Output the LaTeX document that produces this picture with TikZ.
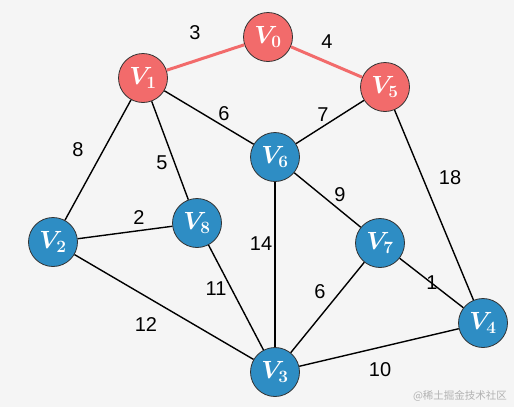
\documentclass[tikz,border=0pt]{standalone}
\usepackage{amsmath, amssymb}
\usepackage{fontspec}
\setsansfont{Liberation Sans}
\newfontfamily\cjk{Noto Sans CJK SC}
\usepackage{xcolor}
\usepackage{tikz}
\usetikzlibrary{calc, positioning}

\definecolor{bgray}{HTML}{F5F5F5}
\definecolor{vred}{HTML}{F26B6B}
\definecolor{vblue}{HTML}{2E8DC4}

\begin{document}
\begin{tikzpicture}[x=1pt, y=-1pt,
    vtx/.style={circle, draw=black!80, line width=0.8pt, minimum size=49pt, inner sep=0pt,
        text=white, font=\fontsize{25}{25}\selectfont\boldmath},
    redv/.style={vtx, fill=vred},
    bluev/.style={vtx, fill=vblue},
    wt/.style={font=\sffamily\fontsize{20}{20}\selectfont, inner sep=0pt},
    edge/.style={line width=1.4pt, black},
    redge/.style={line width=3pt, vred}]
    % 1. Nền
    \fill[bgray] (0,0) rectangle (514,407);
    \useasboundingbox (0,0) rectangle (514,407);

    % 2. Các đỉnh
    \node[redv]  (v0) at (268,37)  {$V_0$};
    \node[redv]  (v1) at (143,78)  {$V_1$};
    \node[redv]  (v5) at (385,87)  {$V_5$};
    \node[bluev] (v6) at (275,157) {$V_6$};
    \node[bluev] (v2) at (53,242)  {$V_2$};
    \node[bluev] (v8) at (197,223) {$V_8$};
    \node[bluev] (v7) at (380,243) {$V_7$};
    \node[bluev] (v4) at (483,323) {$V_4$};
    \node[bluev] (v3) at (275,372) {$V_3$};

    % 3. Các cạnh
    \draw[redge] (v1) -- (v0);
    \draw[redge] (v0) -- (v5);
    \draw[edge] (v1) -- (v2);
    \draw[edge] (v1) -- (v8);
    \draw[edge] (v1) -- (v6);
    \draw[edge] (v5) -- (v6);
    \draw[edge] (v5) -- (v4);
    \draw[edge] (v2) -- (v8);
    \draw[edge] (v2) -- (v3);
    \draw[edge] (v8) -- (v3);
    \draw[edge] (v6) -- (v3);
    \draw[edge] (v6) -- (v7);
    \draw[edge] (v7) -- (v3);
    \draw[edge] (v7) -- (v4);
    \draw[edge] (v3) -- (v4);

    % 4. Trọng số
    \node[wt] (w10) at (195,33)  {3};
    \node[wt] (w05) at (327,42)  {4};
    \node[wt] (w12) at (78,150)  {8};
    \node[wt] (w18) at (162,163) {5};
    \node[wt] (w16) at (224,114) {6};
    \node[wt] (w56) at (323,115) {7};
    \node[wt] (w54) at (450,178) {18};
    \node[wt] (w28) at (139,218) {2};
    \node[wt] (w63) at (261,244) {14};
    \node[wt] (w67) at (340,195) {9};
    \node[wt] (w83) at (216,289) {11};
    \node[wt] (w73) at (320,292) {6};
    \node[wt] (w74) at (432,283) {1};
    \node[wt] (w23) at (146,325) {12};
    \node[wt] (w34) at (380,370) {10};

    % 5. Chữ mờ
    \node[text=black!30, font=\cjk\fontsize{10.5}{10.5}\selectfont, inner sep=0pt]
        (wm) at (460,396) {@稀土掘金技术社区};
\end{tikzpicture}
\end{document}
